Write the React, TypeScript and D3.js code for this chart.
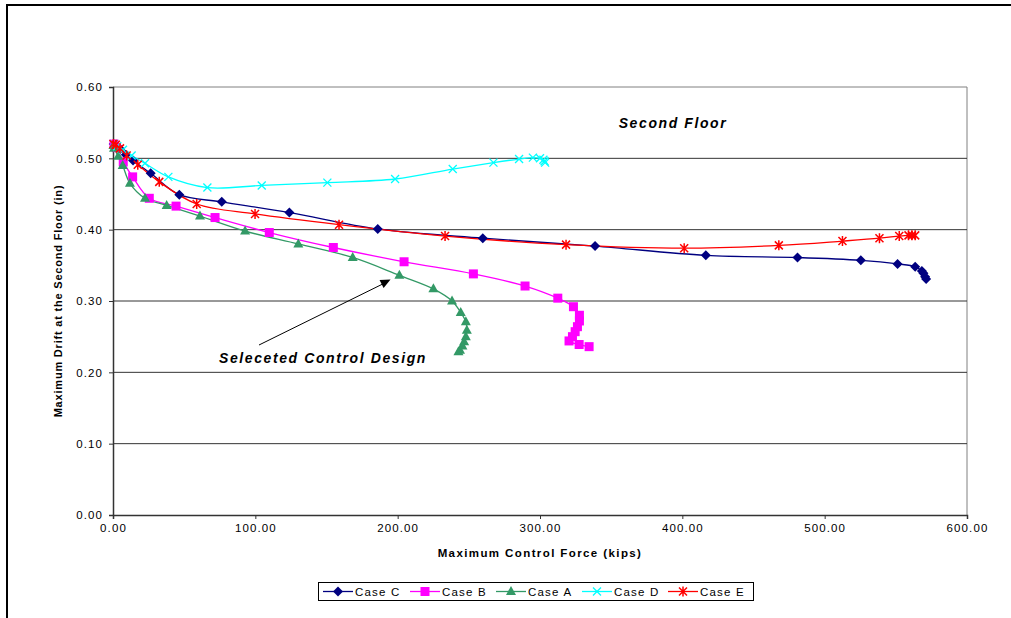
import React, { useEffect, useRef } from 'react';
import * as d3 from 'd3';

// values: [force (kips), drift (in)]
const caseC: [number, number][] = [
  [0.5, 0.52], [2, 0.518], [5, 0.513], [9, 0.505], [14.1, 0.497], [26.5, 0.479], [46.6, 0.449],
  [76.4, 0.439], [123.9, 0.424], [186, 0.401], [259.8, 0.388], [338.7, 0.377],
  [416.5, 0.364], [480.9, 0.361], [525.4, 0.357], [551.2, 0.352], [563.6, 0.348],
  [568.3, 0.342], [569.4, 0.339], [570.6, 0.334], [571.3, 0.331],
];
const caseB: [number, number][] = [
  [0.7, 0.52], [2.5, 0.515], [7.2, 0.495], [13.8, 0.474], [25.5, 0.444], [44.3, 0.433],
  [71.7, 0.417], [109.8, 0.396], [154.8, 0.375], [204.5, 0.355], [253.2, 0.338],
  [289.5, 0.321], [312.5, 0.304], [323.5, 0.292], [327.7, 0.28], [327.7, 0.272],
  [326.3, 0.264], [324.7, 0.257], [322.8, 0.25], [320.4, 0.244], [327.5, 0.239], [334.5, 0.236],
];
const caseA: [number, number][] = [
  [0.3, 0.518], [0.7, 0.514], [3.7, 0.503], [6.8, 0.49], [11.9, 0.465], [22.5, 0.444],
  [37.7, 0.434], [61.1, 0.419], [92.8, 0.398], [130.2, 0.38], [168.4, 0.361],
  [201.2, 0.336], [225.1, 0.317], [238.2, 0.3], [244.3, 0.284], [247.9, 0.271],
  [248.6, 0.259], [247.9, 0.25], [246.7, 0.243], [245.5, 0.237], [243.8, 0.231], [242.7, 0.229],
];
const caseD: [number, number][] = [
  [0.5, 0.52], [3, 0.517], [7, 0.512], [13.1, 0.504], [22.5, 0.493], [38.9, 0.474],
  [66.3, 0.459], [104.5, 0.462], [150.6, 0.466], [198.2, 0.471], [238.7, 0.485],
  [267.3, 0.494], [285.3, 0.499], [295, 0.501], [300, 0.5], [302.4, 0.498],
  [303.2, 0.496], [303.6, 0.494],
];
const caseE: [number, number][] = [
  [0.3, 0.52], [2, 0.519], [4.9, 0.514], [9.6, 0.504], [17.4, 0.491], [32.5, 0.467],
  [58.8, 0.436], [99.8, 0.422], [158.8, 0.407], [233.3, 0.391], [318.3, 0.379],
  [401.3, 0.374], [467.8, 0.378], [512.5, 0.384], [538.5, 0.388], [552.4, 0.391],
  [558.9, 0.392], [561.3, 0.392], [563.6, 0.392],
];

const seriesNames = ['Case C', 'Case B', 'Case A', 'Case D', 'Case E'];
const seriesColors = ['#000080', '#FF00FF', '#339966', '#00FFFF', '#FF0000'];
const seriesMarkers = ['diamond', 'square', 'triangle', 'cross', 'star'];
const seriesData = [caseC, caseB, caseA, caseD, caseE];

const xTicks = [0, 100, 200, 300, 400, 500, 600];
const yTicks = [0, 0.1, 0.2, 0.3, 0.4, 0.5, 0.6];

const W = 1011;
const H = 618;
const margin = { left: 113, right: 44, top: 87, bottom: 103 };

function drawMarker(g: any, kind: string, color: string, x: number, y: number) {
  if (kind === 'diamond') {
    g.append('path').attr('d', `M${x},${y - 5}L${x + 5},${y}L${x},${y + 5}L${x - 5},${y}Z`).attr('fill', color);
  } else if (kind === 'square') {
    g.append('rect').attr('x', x - 4.5).attr('y', y - 4.5).attr('width', 9).attr('height', 9).attr('fill', color);
  } else if (kind === 'triangle') {
    g.append('path').attr('d', `M${x},${y - 5.5}L${x + 5},${y + 3.5}L${x - 5},${y + 3.5}Z`).attr('fill', color);
  } else if (kind === 'cross') {
    g.append('path').attr('d', `M${x - 4},${y - 4}L${x + 4},${y + 4}M${x - 4},${y + 4}L${x + 4},${y - 4}`)
      .attr('stroke', color).attr('stroke-width', 1.3).attr('fill', 'none');
  } else {
    g.append('path')
      .attr('d', `M${x - 4},${y - 4}L${x + 4},${y + 4}M${x - 4},${y + 4}L${x + 4},${y - 4}M${x},${y - 5}L${x},${y + 5}`)
      .attr('stroke', color).attr('stroke-width', 1.5).attr('fill', 'none');
  }
}

export default function App() {
  const svgRef = useRef<SVGSVGElement>(null);

  useEffect(() => {
    const svg = d3.select(svgRef.current);
    svg.selectAll('*').remove();

    const innerW = W - margin.left - margin.right;
    const innerH = H - margin.top - margin.bottom;
    const x = d3.scaleLinear().domain([0, 600]).range([margin.left, margin.left + innerW]);
    const y = d3.scaleLinear().domain([0, 0.6]).range([margin.top + innerH, margin.top]);

    // outer frame
    svg.append('path').attr('d', `M7,${H}L7,5L${W},5`).attr('fill', 'none').attr('stroke', '#000').attr('stroke-width', 2);

    // plot border
    svg.append('path')
      .attr('d', `M${x(0)},${y(0.6)}L${x(600)},${y(0.6)}L${x(600)},${y(0)}`)
      .attr('fill', 'none').attr('stroke', '#808080').attr('stroke-width', 1);

    // gridlines
    svg.append('g').selectAll('line').data(yTicks.filter((d) => d > 0 && d < 0.6)).join('line')
      .attr('x1', x(0)).attr('x2', x(600)).attr('y1', (d) => y(d)).attr('y2', (d) => y(d))
      .attr('stroke', '#333').attr('stroke-width', 1);

    const font = 'Liberation Sans, Arial, sans-serif';

    const xAxis = svg.append('g').attr('transform', `translate(0,${y(0)})`)
      .call(d3.axisBottom(x).tickValues(xTicks).tickSize(4).tickPadding(5).tickFormat(d3.format('.2f')));
    const yAxis = svg.append('g').attr('transform', `translate(${x(0)},0)`)
      .call(d3.axisLeft(y).tickValues(yTicks).tickSize(4).tickPadding(6).tickFormat(d3.format('.2f')));
    [xAxis, yAxis].forEach((a) => {
      a.select('.domain').attr('stroke', '#333').attr('stroke-width', 1.5);
      a.selectAll('.tick line').attr('stroke', '#333');
      a.selectAll('text').attr('font-family', font).attr('font-size', 11.5).attr('letter-spacing', 1.1).attr('fill', '#000');
    });

    // series
    const line = d3.line<[number, number]>().x((d) => x(d[0])).y((d) => y(d[1])).curve(d3.curveCatmullRom.alpha(0.5));
    seriesData.forEach((data, i) => {
      svg.append('path').datum(data).attr('d', line).attr('fill', 'none')
        .attr('stroke', seriesColors[i]).attr('stroke-width', 1.3);
    });
    seriesData.forEach((data, i) => {
      const g = svg.append('g');
      data.forEach((d) => drawMarker(g, seriesMarkers[i], seriesColors[i], x(d[0]), y(d[1])));
    });

    // axis titles
    svg.append('text').attr('x', 540).attr('y', 557).attr('text-anchor', 'middle')
      .attr('font-family', font).attr('font-size', 11.5).attr('font-weight', 'bold').attr('letter-spacing', 1.4)
      .text('Maximum Control Force (kips)');
    svg.append('text').attr('transform', `translate(62,${(y(0) + y(0.6)) / 2}) rotate(-90)`)
      .attr('text-anchor', 'middle').attr('font-family', font).attr('font-size', 11).attr('font-weight', 'bold')
      .attr('letter-spacing', 0.8)
      .text('Maximum Drift at the Second Floor (in)');

    // annotations
    svg.append('text').attr('x', 673).attr('y', 128).attr('text-anchor', 'middle')
      .attr('font-family', font).attr('font-size', 14).attr('font-weight', 'bold').attr('font-style', 'italic')
      .attr('letter-spacing', 1.6).text('Second Floor');
    svg.append('text').attr('x', 323).attr('y', 363).attr('text-anchor', 'middle')
      .attr('font-family', font).attr('font-size', 14).attr('font-weight', 'bold').attr('font-style', 'italic')
      .attr('letter-spacing', 1.6).text('Seleceted Control Design');

    // arrow
    const ax1 = 259, ay1 = 345, ax2 = x(195), ay2 = y(0.33);
    svg.append('line').attr('x1', ax1).attr('y1', ay1).attr('x2', ax2 - 6).attr('y2', ay2 + 3.5)
      .attr('stroke', '#000').attr('stroke-width', 1);
    const ang = Math.atan2(ay2 - ay1, ax2 - ax1);
    const hl = 10, hw = 4.5;
    const bx = ax2 - hl * Math.cos(ang), by = ay2 - hl * Math.sin(ang);
    svg.append('path')
      .attr('d', `M${ax2},${ay2}L${bx - hw * Math.sin(ang)},${by + hw * Math.cos(ang)}L${bx + hw * Math.sin(ang)},${by - hw * Math.cos(ang)}Z`)
      .attr('fill', '#000');

    // legend
    const lg = svg.append('g');
    lg.append('rect').attr('x', 318.5).attr('y', 582.5).attr('width', 435).attr('height', 18)
      .attr('fill', '#fff').attr('stroke', '#000').attr('stroke-width', 1);
    const legendX = [323, 410, 496, 582, 668];
    seriesNames.forEach((name, i) => {
      const lx = legendX[i];
      const ly = 591.5;
      lg.append('line').attr('x1', lx).attr('x2', lx + 30).attr('y1', ly).attr('y2', ly)
        .attr('stroke', seriesColors[i]).attr('stroke-width', 1.3);
      drawMarker(lg, seriesMarkers[i], seriesColors[i], lx + 15, ly);
      lg.append('text').attr('x', lx + 32).attr('y', ly + 4).attr('font-family', font).attr('font-size', 11.5)
        .attr('letter-spacing', 1.2).text(name);
    });
  }, []);

  return (
    <svg ref={svgRef} width={W} height={H} style={{ position: 'absolute', left: 0, top: 0, background: '#fff' }} />
  );
}
